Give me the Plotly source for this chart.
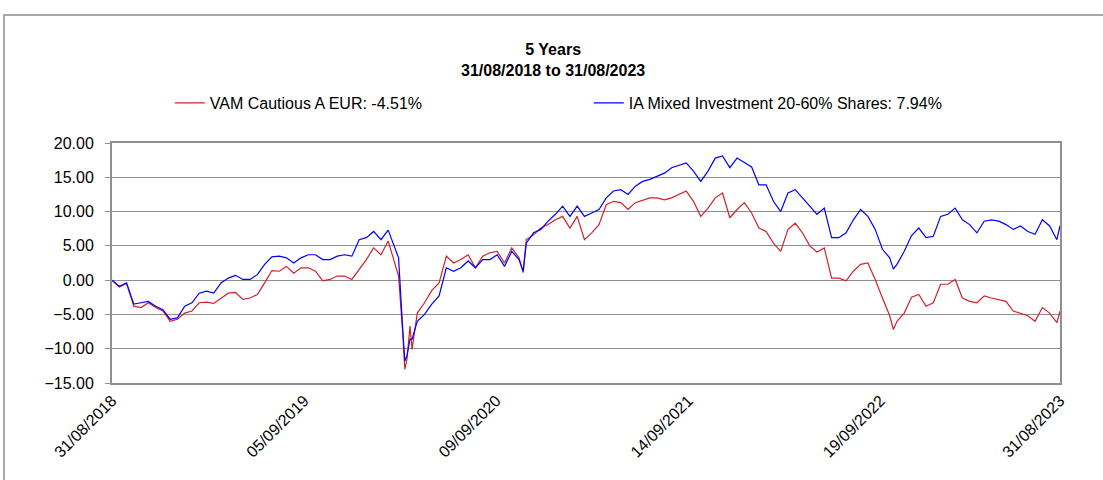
import pandas as pd
import plotly.graph_objects as go

# Fortnightly grid readings (from 31/08/2018), plus final point 31/08/2023
grid_start = "2018-08-31"
grid_periods = 131
final_date = "2023-08-31"

ia_mixed = [
    0.0, -0.9, -0.4, -3.5, -3.3, -3.1, -3.8, -4.3, -5.7, -5.5,
    -3.8, -3.3, -1.9, -1.6, -1.9, -0.4, 0.3, 0.7, 0.1, 0.1,
    0.8, 2.3, 3.4, 3.5, 3.25, 2.5, 3.25, 3.7, 3.7, 3.0,
    3.0, 3.5, 3.7, 3.5, 5.9, 6.2, 7.1, 5.9, 7.3, 4.5,
    -7.2, -8.6, -6.0, -5.0, -3.5, -2.3, 1.8, 1.3, 1.8, 2.8,
    1.8, 3.0, 3.0, 3.7, 2.0, 4.2, 3.0, 5.4, 6.9, 7.4,
    8.6, 9.6, 10.8, 9.3, 10.8, 9.3, 9.8, 10.3, 12.0, 13.0,
    13.2, 12.5, 13.7, 14.4, 14.7, 15.1, 15.6, 16.4, 16.8, 17.1,
    15.9, 14.4, 15.9, 17.8, 18.1, 16.4, 17.8, 17.1, 16.5, 13.9,
    13.9, 11.5, 10.0, 12.7, 13.2, 12.0, 10.8, 9.6, 10.5, 6.2,
    6.2, 6.9, 8.8, 10.3, 9.3, 7.4, 4.5, 3.25, 2.3, 4.2,
    6.5, 7.6, 6.2, 6.4, 9.3, 9.6, 10.5, 8.8, 8.1, 6.9,
    8.6, 8.8, 8.6, 8.1, 7.4, 7.9, 7.1, 6.7, 8.8, 7.9,
    5.9, 7.94,
]
vam_cautious = [
    0.0, -1.0, -0.5, -3.8, -4.0, -3.3, -4.0, -4.5, -6.0, -5.7,
    -4.8, -4.5, -3.3, -3.2, -3.4, -2.6, -1.9, -1.8, -2.8, -2.6,
    -2.1, -0.4, 1.4, 1.3, 2.0, 1.0, 1.8, 1.8, 1.3, -0.1,
    0.1, 0.6, 0.6, 0.1, 1.6, 3.0, 4.7, 3.7, 5.7, 2.0,
    -7.7, -6.7, -4.8, -3.3, -1.5, -0.4, 3.5, 2.5, 3.0, 3.7,
    1.8, 3.5, 4.0, 4.2, 2.5, 4.7, 3.25, 5.9, 6.6, 7.6,
    8.1, 8.8, 9.3, 7.6, 9.3, 5.9, 6.9, 8.1, 11.0, 11.5,
    11.3, 10.3, 11.3, 11.7, 12.0, 12.0, 11.7, 12.0, 12.5, 13.0,
    11.5, 9.3, 10.5, 12.0, 12.7, 9.1, 10.3, 11.3, 9.8, 7.6,
    7.1, 5.4, 4.2, 7.4, 8.3, 6.9, 5.0, 4.1, 4.7, 0.3,
    0.3, -0.1, 1.3, 2.3, 2.5, 0.1, -2.6, -5.2, -6.0, -4.8,
    -2.5, -2.1, -3.8, -3.3, -0.6, -0.6, 0.1, -2.6, -3.1, -3.3,
    -2.3, -2.6, -2.8, -3.1, -4.5, -4.8, -5.2, -6.0, -4.0, -4.8,
    -6.2, -4.51,
]

# Extra readings at turning points between grid dates
extra_dates = ["2020-03-05", "2020-03-17", "2020-03-21", "2020-03-31", "2020-10-31", "2022-10-14"]
extra_ia = [3.25, -11.8, -11.1, -8.6, 1.3, 1.6]
extra_vam = [0.6, -13.0, -11.6, -10.1, 1.1, -7.2]

tick_dates = ["2018-08-31", "2019-09-05", "2020-09-09", "2021-09-14", "2022-09-19", "2023-08-31"]
tick_text = ["31/08/2018", "05/09/2019", "09/09/2020", "14/09/2021", "19/09/2022", "31/08/2023"]

name_vam = "VAM Cautious A EUR: -4.51%"
name_ia = "IA Mixed Investment 20-60% Shares: 7.94%"

dates = list(pd.date_range(grid_start, periods=grid_periods, freq="14D")) + [pd.Timestamp(final_date)]
df = pd.DataFrame({"date": dates, "ia": ia_mixed, "vam": vam_cautious})
ex = pd.DataFrame({"date": pd.to_datetime(extra_dates), "ia": extra_ia, "vam": extra_vam})
df = pd.concat([df, ex]).sort_values("date").reset_index(drop=True)

FONT = "Liberation Sans, Arial, sans-serif"
GRID = "#8f8f8f"

fig = go.Figure()
fig.add_trace(go.Scatter(x=df["date"], y=df["vam"], mode="lines", name=name_vam,
                         line=dict(color="#D0222B", width=1.2)))
fig.add_trace(go.Scatter(x=df["date"], y=df["ia"], mode="lines", name=name_ia,
                         line=dict(color="#0000FF", width=1.2)))

fig.update_layout(
    width=1103, height=480,
    margin=dict(l=112, r=43, t=143, b=97),
    paper_bgcolor="white", plot_bgcolor="white",
    font=dict(family=FONT, size=16, color="#000000"),
    title=dict(text="<b>5 Years<br>31/08/2018 to 31/08/2023</b>", x=0.5015, xref="container",
               xanchor="center", y=1 - 55 / 480, yanchor="middle", yref="container",
               font=dict(family=FONT, size=16, color="#000000")),
    showlegend=True,
    legend=dict(orientation="h", x=0.061, xanchor="left", y=1.167, yanchor="middle",
                entrywidth=374, entrywidthmode="pixels",
                font=dict(family=FONT, size=16), bgcolor="rgba(0,0,0,0)"),
    xaxis=dict(type="date", range=[tick_dates[0], tick_dates[-1]],
               tickvals=tick_dates, ticktext=tick_text, tickangle=-45,
               showgrid=False, showline=True, linecolor=GRID, linewidth=2, mirror=True,
               ticks="", zeroline=False, automargin=False,
               tickfont=dict(family=FONT, size=16)),
    yaxis=dict(range=[-15, 20], dtick=5, tick0=0, tickformat=".2f",
               showgrid=True, gridcolor=GRID, gridwidth=1.3,
               showline=True, linecolor=GRID, linewidth=2, mirror=True,
               ticks="outside", ticklen=5, tickcolor=GRID, zeroline=False,
               ticklabelstandoff=8, automargin=False,
               tickfont=dict(family=FONT, size=16)),
    shapes=[dict(type="rect", xref="paper", yref="paper",
                 x0=-0.1139, x1=1.2, y0=-0.6, y1=1.533,
                 line=dict(color="#8c8c8c", width=1.5), fillcolor="rgba(0,0,0,0)", layer="below")],
)

fig.write_html("out.html", config={"displayModeBar": False},
               post_script="document.body.style.margin='0';")
